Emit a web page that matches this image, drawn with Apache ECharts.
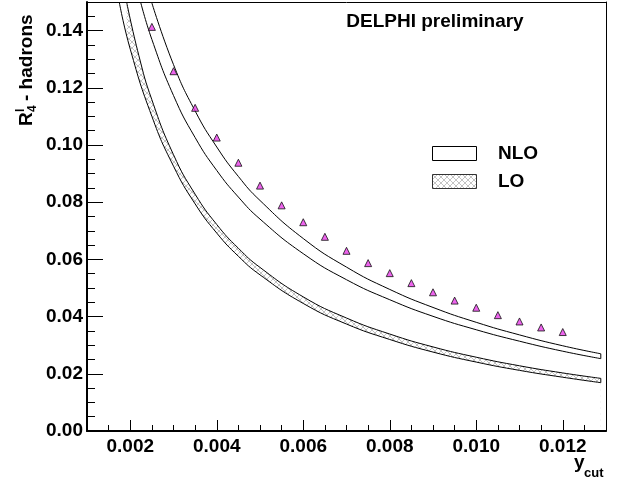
<!DOCTYPE html>
<html>
<head>
<meta charset="utf-8">
<script src="https://cdn.jsdelivr.net/npm/echarts@6/dist/echarts.min.js"></script>
<style>
  html, body { margin: 0; padding: 0; background: #fff; }
  #chart { width: 632px; height: 483px; }
</style>
</head>
<body>
<div id="chart"></div>
<script>
// Four-jet rate R4 vs y_cut: NLO and LO prediction bands with measured points.
const xMajorTicks = [0.002, 0.004, 0.006, 0.008, 0.010, 0.012];
const yMajorTicks = [0.00, 0.02, 0.04, 0.06, 0.08, 0.10, 0.12, 0.14];

// Measured points
const dataYcut = [0.0025, 0.0030, 0.0035, 0.0040, 0.0045, 0.0050, 0.0055, 0.0060, 0.0065, 0.0070,
                  0.0075, 0.0080, 0.0085, 0.0090, 0.0095, 0.0100, 0.0105, 0.0110, 0.0115, 0.0120];
const dataR4 = [0.1413, 0.1258, 0.1130, 0.1026, 0.0938, 0.0858, 0.0789, 0.0730, 0.0679, 0.0630,
                0.0587, 0.0552, 0.0517, 0.0485, 0.0456, 0.0431, 0.0405, 0.0383, 0.0362, 0.0346];

// NLO band edges [y_cut, R4]
const nloUpper = [
  [0.002493, 0.150], [0.0030, 0.1281], [0.0035, 0.1119], [0.0040, 0.0993], [0.0045, 0.0890],
  [0.0050, 0.0806], [0.0060, 0.0673], [0.0070, 0.0573], [0.0080, 0.0495], [0.0090, 0.0432],
  [0.0100, 0.0380], [0.0110, 0.0336], [0.0120, 0.0298], [0.01288, 0.0270]
];
const nloLower = [
  [0.002239, 0.150], [0.0025, 0.1369], [0.0030, 0.1173], [0.0035, 0.1026], [0.0040, 0.0911],
  [0.0045, 0.0818], [0.0050, 0.0741], [0.0060, 0.0620], [0.0070, 0.0529], [0.0080, 0.0459],
  [0.0090, 0.0401], [0.0100, 0.0354], [0.0110, 0.0314], [0.0120, 0.0279], [0.01288, 0.0253]
];
// LO band edges [y_cut, R4]
const loUpper = [
  [0.001916, 0.150], [0.0022, 0.1312], [0.0025, 0.1158], [0.0030, 0.0966], [0.0035, 0.0828],
  [0.0040, 0.0722], [0.0045, 0.0639], [0.0050, 0.0572], [0.0060, 0.0469], [0.0070, 0.0395],
  [0.0080, 0.0339], [0.0090, 0.0294], [0.0100, 0.0258], [0.0110, 0.0228], [0.0120, 0.0203],
  [0.01288, 0.0184]
];
const loLower = [
  [0.001745, 0.150], [0.0020, 0.1335], [0.0025, 0.1100], [0.0030, 0.0926], [0.0035, 0.0794],
  [0.0040, 0.0692], [0.0045, 0.0611], [0.0050, 0.0546], [0.0060, 0.0446], [0.0070, 0.0374],
  [0.0080, 0.0320], [0.0090, 0.0276], [0.0100, 0.0241], [0.0110, 0.0212], [0.0120, 0.0188],
  [0.01288, 0.0169]
];

const FONT = 'Liberation Sans, Arial, Helvetica, sans-serif';
const TXT = 'bold 19px ' + FONT;

// Cross-hatch tile used for the LO band
function makeHatch() {
  const c = document.createElement('canvas');
  c.width = 6; c.height = 6;
  const g = c.getContext('2d');
  g.fillStyle = '#ffffff';
  g.fillRect(0, 0, 6, 6);
  g.strokeStyle = '#b4b4b4';
  g.lineWidth = 0.8;
  g.beginPath();
  g.moveTo(0, 0); g.lineTo(6, 6);
  g.moveTo(6, 0); g.lineTo(0, 6);
  g.stroke();
  return c;
}
const hatch = { image: makeHatch(), repeat: 'repeat' };

// Vertical segment closing a band at its last y_cut value
function endCap(lower, upper) {
  return [lower[lower.length - 1], upper[upper.length - 1]];
}

const edgeLine = { color: '#000', width: 1 };
const SMOOTH = 0.5;

const chart = echarts.init(document.getElementById('chart'), null, { renderer: 'canvas' });

chart.setOption({
  animation: false,
  backgroundColor: '#fff',
  grid: { left: 87, right: 26, top: 2, bottom: 52, containLabel: false },
  xAxis: [
    {
      type: 'value', min: 0.001, max: 0.013, position: 'bottom', z: 10,
      axisLine: { show: true, onZero: false, lineStyle: { color: '#000', width: 2 } },
      axisTick: { show: true, inside: true, length: 11, customValues: xMajorTicks, lineStyle: { color: '#000', width: 1 } },
      axisLabel: { customValues: xMajorTicks, formatter: v => v.toFixed(3), color: '#000',
                   fontFamily: FONT, fontWeight: 'bold', fontSize: 19, margin: 6 },
      splitLine: { show: false }
    },
    {
      type: 'value', min: 0.001, max: 0.013, interval: 0.0005, position: 'bottom', z: 10,
      axisLine: { show: false },
      axisTick: { show: true, inside: true, length: 6, lineStyle: { color: '#000', width: 1 } },
      axisLabel: { show: false }, splitLine: { show: false }
    },
    {
      type: 'value', min: 0.001, max: 0.013, position: 'top', z: 10,
      axisLine: { show: true, onZero: false, lineStyle: { color: '#000', width: 1 } },
      axisTick: { show: false }, axisLabel: { show: false }, splitLine: { show: false }
    }
  ],
  yAxis: [
    {
      type: 'value', min: 0, max: 0.15, position: 'left', z: 10,
      axisLine: { show: true, onZero: false, lineStyle: { color: '#000', width: 2 } },
      axisTick: { show: true, inside: true, length: 16, customValues: yMajorTicks, lineStyle: { color: '#000', width: 1 } },
      axisLabel: { customValues: yMajorTicks, formatter: v => v.toFixed(2), color: '#000',
                   fontFamily: FONT, fontWeight: 'bold', fontSize: 19, margin: 4 },
      splitLine: { show: false }
    },
    {
      type: 'value', min: 0, max: 0.15, interval: 0.005, position: 'left', z: 10,
      axisLine: { show: false },
      axisTick: { show: true, inside: true, length: 8, lineStyle: { color: '#000', width: 1 } },
      axisLabel: { show: false }, splitLine: { show: false }
    },
    {
      type: 'value', min: 0, max: 0.15, position: 'right', z: 10,
      axisLine: { show: true, onZero: false, lineStyle: { color: '#000', width: 1 } },
      axisTick: { show: false }, axisLabel: { show: false }, splitLine: { show: false }
    }
  ],
  series: [
    // LO band: hatched fill under the upper edge, white fill under the lower edge
    {
      name: 'LO', type: 'line', data: loUpper, smooth: SMOOTH, showSymbol: false, clip: true,
      lineStyle: edgeLine, areaStyle: { color: hatch, opacity: 1, origin: 'start' }, z: 2
    },
    {
      type: 'line', data: loLower, smooth: SMOOTH, showSymbol: false, clip: true,
      lineStyle: edgeLine, areaStyle: { color: '#ffffff', opacity: 1, origin: 'start' }, z: 3
    },
    {
      type: 'line', data: endCap(loLower, loUpper), showSymbol: false, lineStyle: edgeLine, z: 4
    },
    // NLO band outline
    {
      name: 'NLO', type: 'line', data: nloUpper, smooth: SMOOTH, showSymbol: false, clip: true,
      lineStyle: edgeLine, z: 4
    },
    {
      type: 'line', data: nloLower, smooth: SMOOTH, showSymbol: false, clip: true,
      lineStyle: edgeLine, z: 4
    },
    {
      type: 'line', data: endCap(nloLower, nloUpper), showSymbol: false, lineStyle: edgeLine, z: 4
    },
    // Measured points
    {
      name: 'DELPHI', type: 'scatter', symbol: 'triangle', symbolSize: [7, 7], z: 5,
      data: dataYcut.map((x, i) => [x, dataR4[i]]),
      itemStyle: { color: '#e83ce8', borderColor: '#111', borderWidth: 1 }
    }
  ],
  graphic: [
    // y-axis title, reading upward
    {
      type: 'group', x: 27, y: 126, rotation: Math.PI / 2,
      children: [
        { type: 'text', x: 0, y: 0, style: { text: 'R', font: TXT, fill: '#000', verticalAlign: 'middle', align: 'left' } },
        { type: 'text', x: 14, y: -6, style: { text: 'l', font: 'bold 12px ' + FONT, fill: '#000', verticalAlign: 'middle', align: 'left' } },
        { type: 'text', x: 14, y: 6, style: { text: '4', font: 'bold 12px ' + FONT, fill: '#000', verticalAlign: 'middle', align: 'left' } },
        { type: 'text', x: 25, y: 0, style: { text: '- hadrons', font: TXT, fill: '#000', verticalAlign: 'middle', align: 'left' } }
      ]
    },
    // x-axis title
    { type: 'text', x: 574, y: 463, style: { text: 'y', font: TXT, fill: '#000', verticalAlign: 'middle', align: 'left' } },
    { type: 'text', x: 584, y: 473, style: { text: 'cut', font: 'bold 13px ' + FONT, fill: '#000', verticalAlign: 'middle', align: 'left' } },
    // header
    { type: 'text', x: 435, y: 22, style: { text: 'DELPHI preliminary', font: TXT, fill: '#000', verticalAlign: 'middle', align: 'center' } },
    // key
    { type: 'rect', shape: { x: 432.5, y: 146.5, width: 44, height: 14 }, style: { fill: '#fff', stroke: '#000', lineWidth: 1 } },
    { type: 'text', x: 498, y: 154, style: { text: 'NLO', font: TXT, fill: '#000', verticalAlign: 'middle', align: 'left' } },
    { type: 'rect', shape: { x: 432.5, y: 174.5, width: 44, height: 14 }, style: { fill: hatch, stroke: '#333', lineWidth: 1 } },
    { type: 'text', x: 498, y: 182, style: { text: 'LO', font: TXT, fill: '#000', verticalAlign: 'middle', align: 'left' } }
  ]
});
</script>
</body>
</html>
